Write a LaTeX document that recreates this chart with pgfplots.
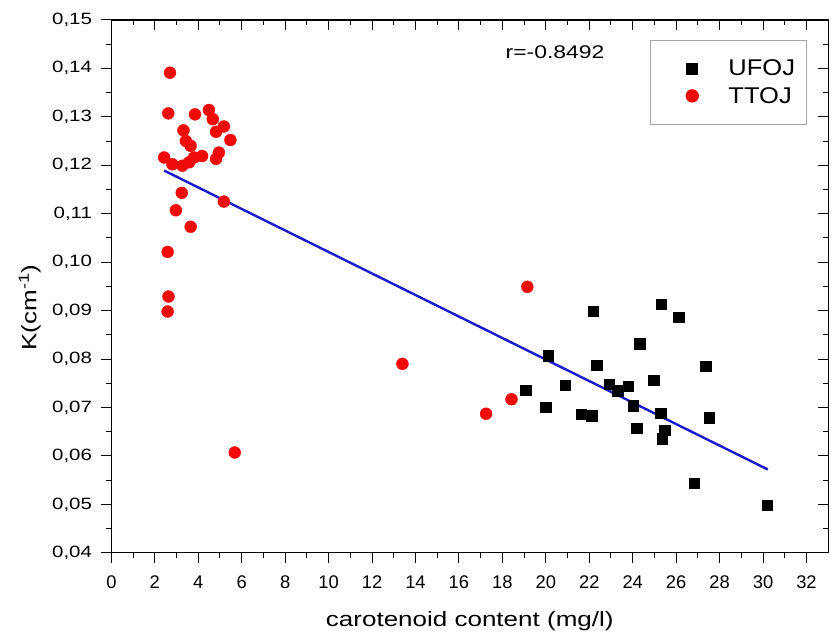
\documentclass[border=0pt]{standalone}
\usepackage{fontspec}
\setmainfont{Liberation Sans}
\newfontfamily\wideA[FakeStretch=1.25]{Liberation Sans}
\newfontfamily\wideB[FakeStretch=1.12]{Liberation Sans}
\usepackage{pgfplots}
\pgfplotsset{compat=1.18}
\definecolor{fitblue}{RGB}{25,25,205}
\definecolor{dotred}{RGB}{240,10,10}

\begin{document}
\begin{tikzpicture}
\pgfplotsset{common/.style={
  scale only axis, width=721bp, height=536bp,
  xmin=0, xmax=33, ymin=0.04, ymax=0.15,
  xtick={0,2,4,6,8,10,12,14,16,18,20,22,24,26,28,30,32},
  ytick={0.04,0.05,0.06,0.07,0.08,0.09,0.10,0.11,0.12,0.13,0.14,0.15},
  minor x tick num=1, minor y tick num=1,
  major tick length=10bp, minor tick length=5bp,
  every tick/.style={black, line width=1bp},
  axis line style={black, line width=1.3bp},
}}
\begin{axis}[common,
  xtick pos=left, ytick pos=left, tick align=outside,
  /pgf/number format/assume math mode=true,
  yticklabel style={/pgf/number format/.cd, fixed, fixed zerofill, precision=2, use comma, /tikz/.cd, font=\wideA\fontsize{16.5}{19}\selectfont, xshift=-6bp},
  xticklabel style={/pgf/number format/.cd, fixed, precision=0, /tikz/.cd, font=\fontsize{18.5}{21}\selectfont, yshift=-10bp},
  xlabel={carotenoid content (mg/l)},
  ylabel={K(cm\textsuperscript{-1})},
  xlabel style={font=\wideA\fontsize{21}{24}\selectfont, at={(axis description cs:0.5,0)}, anchor=center, yshift=-69bp},
  ylabel style={font=\wideA\fontsize{21}{24}\selectfont, at={(axis description cs:0,0.46)}, anchor=center, yshift=82bp},
  legend style={at={(0.751,0.963)}, anchor=north west, draw=gray!70, line width=0.8bp,
    font=\wideB\fontsize{23}{27}\selectfont, inner xsep=9bp, inner ysep=18bp, row sep=6bp},
  legend cell align=left,
]
% TTOJ (red circles)
\addplot[only marks, mark=*, mark size=6bp, dotred, mark options={draw=dotred, fill=dotred}, forget plot] coordinates {
(2.70,0.1391) (2.62,0.1307) (3.85,0.1305) (4.49,0.1314) (4.67,0.1295)
(5.18,0.1280) (4.82,0.1269) (5.48,0.1252) (3.32,0.1272) (3.43,0.1250)
(3.65,0.1240) (4.18,0.1219) (4.95,0.1226) (4.82,0.1213) (2.43,0.1216)
(2.81,0.1202) (3.27,0.1199) (3.58,0.1206) (3.81,0.1216) (3.24,0.1143)
(5.18,0.1125) (2.97,0.1107) (3.65,0.1073) (2.59,0.1021) (2.63,0.0929)
(2.59,0.0898) (5.68,0.0607) (19.15,0.0949) (13.40,0.0790) (18.42,0.0717)
(17.25,0.0687)
};
% linear fit
\addplot[fitblue, line width=2.4bp, forget plot] coordinates {(2.43,0.1189) (30.22,0.0572)};
% UFOJ (black squares)
\addplot[only marks, mark=square*, mark size=5.3bp, black, forget plot] coordinates {
(20.10,0.0807) (19.08,0.0736) (19.99,0.0701) (20.89,0.0746) (22.18,0.0899)
(25.32,0.0913) (26.11,0.0886) (24.32,0.0832) (22.35,0.0787) (27.36,0.0785)
(22.91,0.0748) (23.30,0.0735) (23.80,0.0744) (24.97,0.0756) (24.03,0.0704)
(21.62,0.0686) (22.12,0.0683) (25.29,0.0688) (27.52,0.0679) (24.18,0.0657)
(25.47,0.0653) (25.35,0.0635) (26.84,0.0544) (30.20,0.0498)
};
\addlegendimage{black, legend image code/.code={\path (-33bp,0) (34bp,0); \path[mark=square*, mark size=5.5bp, black] plot coordinates {(0bp,0bp)};}}
\addlegendentry{UFOJ}
\addlegendimage{dotred, legend image code/.code={\path (-33bp,0) (34bp,0); \path[mark=*, mark size=6.3bp, draw=dotred, fill=dotred] plot coordinates {(0bp,0bp)};}}
\addlegendentry{TTOJ}
\node[font=\wideA\fontsize{18.5}{22}\selectfont] at (rel axis cs:0.619,0.94) {r=-0.8492};
\end{axis}
\begin{axis}[common,
  xtick pos=right, ytick pos=right, tick align=inside,
  xticklabels={}, yticklabels={},
]
\end{axis}
\path ([xshift=-112bp,yshift=-88bp]current axis.south west) rectangle ([xshift=2bp,yshift=20bp]current axis.north east);
\end{tikzpicture}
\end{document}
